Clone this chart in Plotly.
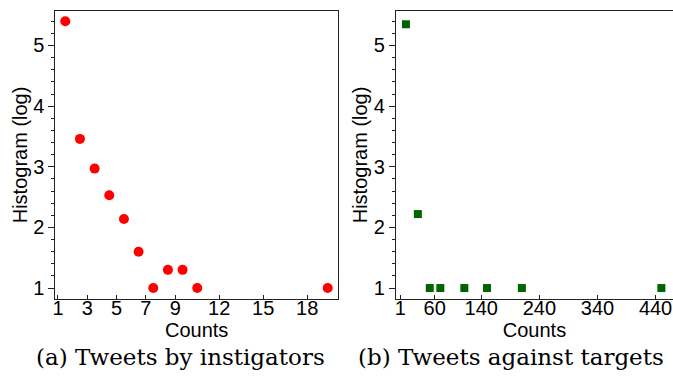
import plotly.graph_objects as go

# Panel (a): tweets by instigators
a_counts = [1.5, 2.5, 3.5, 4.5, 5.5, 6.5, 7.5, 8.5, 9.5, 10.5, 19.4]
a_hist_log = [5.40, 3.46, 2.97, 2.53, 2.14, 1.60, 1.00, 1.30, 1.30, 1.00, 1.00]
a_xticks = [1, 3, 5, 7, 9, 12, 15, 18]

# Panel (b): tweets against targets
b_counts = [10.5, 31, 51.5, 69.7, 111, 150, 210, 450]
b_hist_log = [5.35, 2.22, 1.00, 1.00, 1.00, 1.00, 1.00, 1.00]
b_xticks = [1, 60, 140, 240, 340, 440]

y_ticks = [1, 2, 3, 4, 5]
captions = ["(a) Tweets by instigators", "(b) Tweets against targets"]

FONT = "Liberation Sans"
FS = 20

fig = go.Figure()
fig.add_trace(go.Scatter(x=a_counts, y=a_hist_log, mode="markers",
                         marker=dict(symbol="circle", size=10, color="#ff0000"),
                         xaxis="x", yaxis="y", showlegend=False))
fig.add_trace(go.Scatter(x=b_counts, y=b_hist_log, mode="markers",
                         marker=dict(symbol="square", size=8, color="#006400"),
                         xaxis="x2", yaxis="y2", showlegend=False))

common_x = dict(showline=True, mirror=True, linecolor="#222", linewidth=1,
                ticks="inside", ticklen=4, tickcolor="#222", showgrid=False,
                zeroline=False, ticklabelstandoff=-9, ticklabeloverflow="allow",
                automargin=False,
                tickfont=dict(family=FONT, size=FS, color="black"),
                title=dict(text="Counts", font=dict(family=FONT, size=FS, color="black"),
                           standoff=0))
common_y = dict(showline=True, mirror=True, linecolor="#222", linewidth=1,
                ticks="outside", ticklen=6, tickcolor="#222", showgrid=False,
                zeroline=False, tickvals=y_ticks, range=[0.82, 5.57],
                automargin=False,
                tickfont=dict(family=FONT, size=FS, color="black"),
                minor=dict(dtick=0.2, ticks="outside", ticklen=3, tickcolor="#222", showgrid=False),
                title=dict(text="Histogram (log)", font=dict(family=FONT, size=FS, color="black"),
                           standoff=0))

fig.update_layout(
    width=673, height=377,
    margin=dict(l=0, r=0, t=0, b=0, autoexpand=False),
    paper_bgcolor="white", plot_bgcolor="white",
    xaxis=dict(common_x, domain=[0.0822, 0.5022], range=[0.82, 20.1], tickvals=a_xticks, anchor="y"),
    yaxis=dict(common_y, domain=[0.207, 0.971], anchor="x"),
    xaxis2=dict(common_x, domain=[0.5884, 1.0], range=[-6.6, 470], tickvals=b_xticks, anchor="y2"),
    yaxis2=dict(common_y, domain=[0.207, 0.971], anchor="x2"),
)

fig.add_annotation(text=captions[0], x=180 / 673, y=1 - 357 / 377, xref="paper", yref="paper",
                   showarrow=False, xanchor="center", yanchor="middle",
                   font=dict(family="DejaVu Serif", size=23, color="black"))
fig.add_annotation(text=captions[1], x=511 / 673, y=1 - 357 / 377, xref="paper", yref="paper",
                   showarrow=False, xanchor="center", yanchor="middle",
                   font=dict(family="DejaVu Serif", size=23, color="black"))

fig.write_html("out.html", config={"displayModeBar": False},
               post_script="document.body.style.margin='0px';document.body.style.overflow='hidden';")
